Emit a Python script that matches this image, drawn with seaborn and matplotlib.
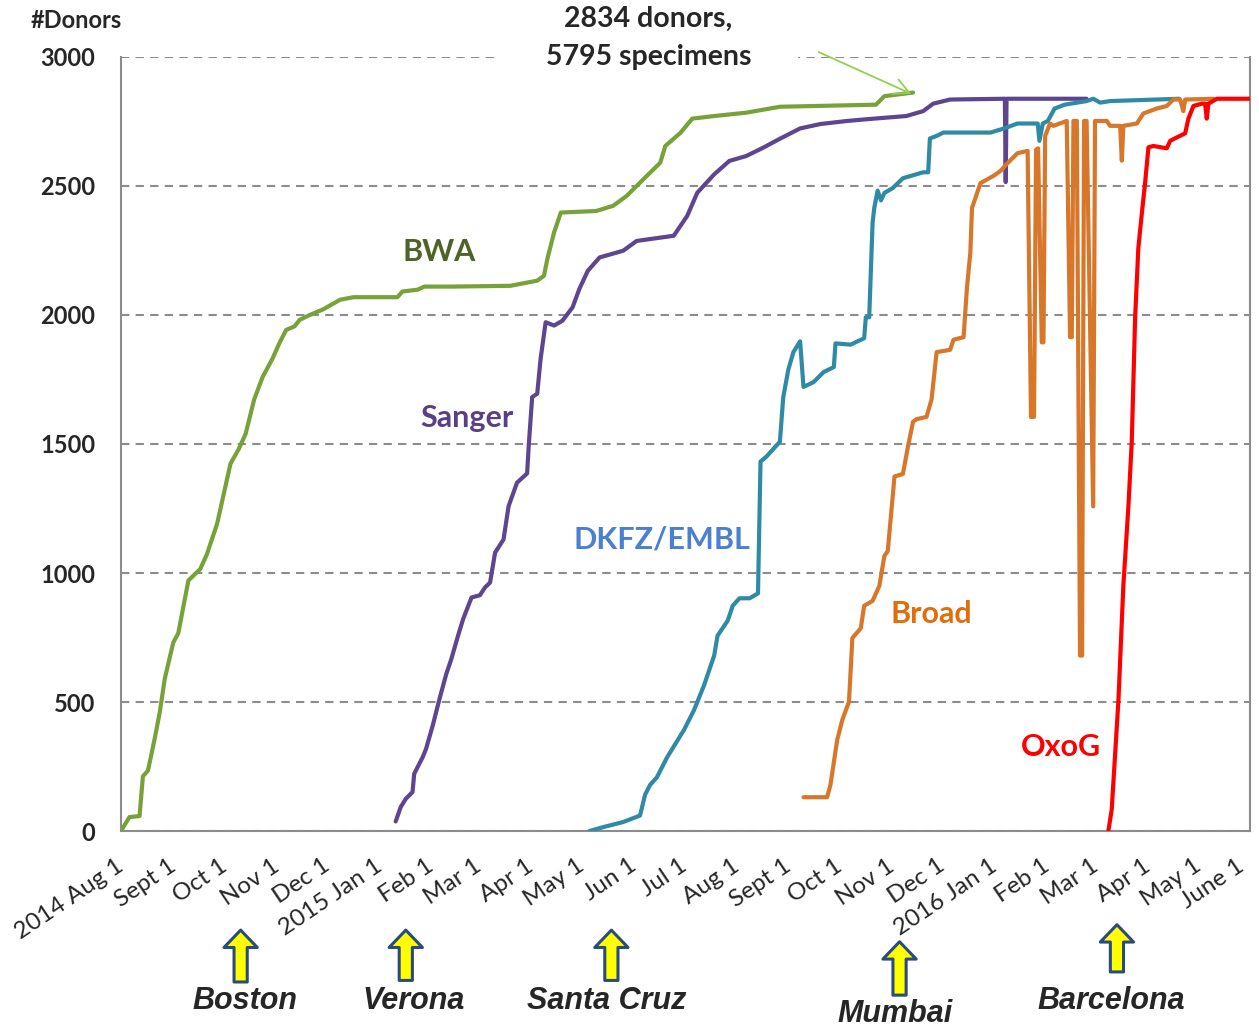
import matplotlib
matplotlib.use("Agg")
import matplotlib.pyplot as plt
import matplotlib.dates as mdates
import matplotlib.transforms as mtransforms
import seaborn as sns
import pandas as pd

start = pd.Timestamp("2014-08-01")
end = pd.Timestamp("2016-06-01")

# days since 2014 Aug 1 -> cumulative donors aligned
bwa_days = [0, 5, 11, 13, 16, 20, 23, 26, 31, 34, 40, 47, 51, 57, 65, 70, 74, 79, 84, 90,
            94, 98, 103, 106, 112, 120, 130, 138, 164, 167, 176, 180, 196, 231, 247, 251,
            253, 257, 261, 282, 292, 300, 306, 312, 320, 323, 332, 339, 352, 371, 391, 448,
            453, 470]
bwa_donors = [0, 54, 58, 212, 234, 358, 460, 591, 730, 767, 971, 1015, 1073, 1190, 1424, 1482,
              1540, 1672, 1759, 1832, 1891, 1942, 1956, 1981, 2000, 2022, 2059, 2069, 2069,
              2091, 2098, 2110, 2110, 2113, 2133, 2152, 2217, 2320, 2397, 2403, 2423, 2461,
              2500, 2539, 2590, 2655, 2706, 2761, 2771, 2784, 2807, 2815, 2848, 2862]

sanger_days = [163, 166, 169, 173, 174, 179, 181, 185, 189, 193, 196, 200, 203, 208, 213, 216,
               219, 222, 227, 230, 235, 241, 242, 244, 247, 249, 252, 257, 262, 268, 272, 277,
               284, 298, 306, 328, 336, 342, 352, 361, 371, 381, 391, 403, 415, 431, 445, 466,
               476, 482, 492, 524.5, 525, 525.5, 573]
sanger_donors = [37, 93, 125, 151, 222, 286, 318, 409, 512, 608, 666, 757, 821, 905, 914, 944,
                 963, 1079, 1130, 1259, 1350, 1386, 1498, 1682, 1695, 1830, 1972, 1959, 1978,
                 2030, 2101, 2171, 2223, 2249, 2287, 2307, 2384, 2474, 2545, 2597, 2616, 2648,
                 2683, 2723, 2740, 2752, 2760, 2771, 2790, 2819, 2835, 2838, 2515, 2838, 2838]

dkfz_days = [278, 286, 298, 308, 311, 314, 318, 324, 334, 340, 346, 352, 354, 360, 363, 367,
             373, 378, 379.5, 383, 387, 391, 393, 396, 399, 403, 405, 411, 417, 423, 424, 433,
             441, 442, 444, 446, 447, 449, 451, 453, 458, 464, 476, 479, 480, 484, 488, 516,
             524, 532, 544, 545, 547, 550, 554, 560, 573, 577, 581, 587, 628]
dkfz_donors = [0, 15, 35, 60, 141, 179, 208, 285, 391, 468, 565, 680, 757, 815, 873, 902, 902,
               921, 1432, 1451, 1480, 1509, 1682, 1788, 1856, 1898, 1721, 1740, 1779, 1798,
               1890, 1885, 1910, 1991, 1991, 2357, 2415, 2482, 2444, 2473, 2492, 2530, 2553,
               2553, 2684, 2694, 2707, 2707, 2723, 2742, 2742, 2675, 2742, 2752, 2800, 2815,
               2829, 2838, 2823, 2829, 2838]

broad_days = [405, 419, 421, 425, 428, 432, 434, 439, 441, 446, 450, 453, 455, 459, 464, 467,
              470, 472, 478, 481, 484, 492, 494, 500, 502, 504, 505, 507, 510, 518, 522, 526,
              532, 538, 540, 541.8, 543, 544.2, 546.4, 547.4, 548.4, 551.3, 553.3, 561.2,
              563.2, 564.2, 565.2, 567.2, 569.1, 570.3, 571.5, 573, 576.9, 578, 585, 586.9,
              592.9, 593.9, 594.8, 602.8, 606.7, 614.6, 620.6, 624.5, 628.5, 630.4, 631.5, 648.3]
broad_donors = [131, 131, 179, 353, 430, 501, 748, 786, 873, 892, 950, 1066, 1085, 1374, 1384,
                1490, 1586, 1596, 1605, 1673, 1856, 1865, 1904, 1914, 2106, 2241, 2415, 2453,
                2511, 2540, 2559, 2588, 2627, 2636, 1605, 1605, 2640, 2646, 1894, 1894, 2694,
                2742, 2733, 2752, 1914, 1914, 2752, 2752, 680, 680, 2752, 2752, 1258, 2752,
                2752, 2733, 2733, 2598, 2733, 2742, 2781, 2800, 2810, 2835, 2835, 2790, 2835, 2838]

oxog_days = [585.9, 587.9, 589.9, 591.9, 594.8, 597.8, 599.8, 601.8, 603.7, 605.8, 607.7,
             609.7, 612.6, 620.6, 622.6, 626.5, 631.5, 633.4, 636.4, 641.4, 643.3, 644.3,
             645.3, 650.3, 670]
oxog_donors = [0, 83, 295, 507, 950, 1258, 1509, 1991, 2260, 2395, 2511, 2650, 2655, 2646,
               2675, 2688, 2704, 2761, 2810, 2819, 2819, 2761, 2819, 2838, 2838]

pipelines = ["BWA", "Sanger", "DKFZ/EMBL", "Broad", "OxoG"]
line_colors = ["#77a23a", "#5e4590", "#2f8aa6", "#d8762a", "#ff0000"]
label_colors = ["#4f6228", "#5b3f86", "#4a7fd2", "#e46c0a", "#ff0000"]
label_days = [189, 205, 321, 481, 558]
label_donors = [2244, 1601, 1128, 841, 326]

tick_labels = ["2014 Aug 1", "Sept 1", "Oct 1", "Nov 1", "Dec 1", "2015 Jan 1", "Feb 1",
               "Mar 1", "Apr 1", "May 1", "Jun 1", "Jul 1", "Aug 1", "Sept 1", "Oct 1",
               "Nov 1", "Dec 1", "2016 Jan 1", "Feb 1", "Mar 1", "Apr 1", "May 1", "June 1"]

meetings = ["Boston", "Verona", "Santa Cruz", "Mumbai", "Barcelona"]
meeting_dates = ["2014-10-11", "2015-01-17", "2015-05-19", "2015-11-06", "2016-03-14"]
arrow_top = [-0.128, -0.128, -0.128, -0.143, -0.121]
arrow_base = [-0.195, -0.193, -0.193, -0.212, -0.182]
city_y = [-0.219, -0.219, -0.219, -0.236, -0.219]
city_dx = [4, 8, -5, -4, -6]  # small horizontal nudges of the city names, in pixels

sns.set_style("white")
plt.rcParams["font.family"] = ["Lato", "DejaVu Sans"]

fig = plt.figure(figsize=(12.59, 10.28), dpi=100)
ax = fig.add_axes([0.0961, 0.1916, 0.8968, 0.7530])

all_days = [bwa_days, sanger_days, dkfz_days, broad_days, oxog_days]
all_donors = [bwa_donors, sanger_donors, dkfz_donors, broad_donors, oxog_donors]
for name, d, v, c in zip(pipelines, all_days, all_donors, line_colors):
    df = pd.DataFrame({"date": start + pd.to_timedelta(d, unit="D"), "donors": v})
    sns.lineplot(data=df, x="date", y="donors", color=c, lw=3, estimator=None,
                 sort=False, ax=ax, zorder=3)

for name, d, v, c in zip(pipelines, label_days, label_donors, label_colors):
    ax.text(start + pd.Timedelta(days=d), v, name, color=c, fontsize=22,
            fontweight="bold", ha="center", va="center")

ax.set_xlim(start, end)
ax.set_ylim(0, 3000)
ax.set_yticks(range(0, 3001, 500))
tick_dates = pd.date_range(start, end, freq="MS")
ax.set_xticks(tick_dates)
ax.set_xticklabels([""] * len(tick_dates))
ax.set_xlabel("")
ax.set_ylabel("")
ax.tick_params(axis="x", length=0)
ax.tick_params(axis="y", length=6.5, width=1.2, color="#8c8c8c", pad=12, labelsize=17)
for lab in ax.get_yticklabels():
    lab.set_fontweight("bold")

# rotated date labels, right-top corner just below each tick
trans = mtransforms.blended_transform_factory(ax.transData, ax.transAxes)
for i, (td, lab) in enumerate(zip(tick_dates, tick_labels)):
    dx = -14 if i == len(tick_dates) - 1 else -5
    off = mtransforms.ScaledTranslation(dx / 100, -24 / 100, fig.dpi_scale_trans)
    ax.text(mdates.date2num(td), 0, lab, transform=trans + off, rotation=34,
            ha="right", va="top", rotation_mode="anchor", fontsize=17.5)

ax.yaxis.grid(True, color="#8c8c8c", ls=(0, (4, 3)), lw=1.5)
ax.xaxis.grid(False)
ax.set_axisbelow(True)
for s in ["left", "bottom", "right"]:
    ax.spines[s].set_color("#8c8c8c")
    ax.spines[s].set_linewidth(1.5)
ax.spines["top"].set_visible(False)

fig.text(0.024, 0.9805, "#Donors", fontsize=17, fontweight="bold", va="center")

# total annotation
ax.text(start + pd.Timedelta(days=313), 3074, "2834 donors,\n5795 specimens",
        ha="center", va="center", fontsize=20.5, fontweight="bold", linespacing=1.55,
        bbox=dict(fc="white", ec="none", pad=34), zorder=2)
ax.annotate("", xy=(start + pd.Timedelta(days=469), 2857),
            xytext=(start + pd.Timedelta(days=414), 3019),
            arrowprops=dict(arrowstyle="->", color="#92d050", lw=1.3, mutation_scale=28,
                            shrinkA=0, shrinkB=0),
            annotation_clip=False, zorder=4)

# meeting arrows
for city, md, top, base, ty, dx in zip(meetings, meeting_dates, arrow_top, arrow_base,
                                       city_y, city_dx):
    xd = mdates.date2num(pd.Timestamp(md))
    ax.annotate("", xy=(xd, top), xycoords=trans, xytext=(xd, base), textcoords=trans,
                arrowprops=dict(arrowstyle="simple,head_width=2.4,head_length=1.25,tail_width=0.95",
                                fc="#ffff00", ec="#2b4a7d", lw=2.2, mutation_scale=10,
                                shrinkA=0, shrinkB=0),
                annotation_clip=False)
    nudge = mtransforms.ScaledTranslation(dx / 100, 0, fig.dpi_scale_trans)
    ax.text(xd, ty, city, transform=trans + nudge, ha="center", va="center", fontsize=22,
            fontweight="bold", fontstyle="italic", family="Liberation Sans")

fig.savefig("out.png", dpi=100)
